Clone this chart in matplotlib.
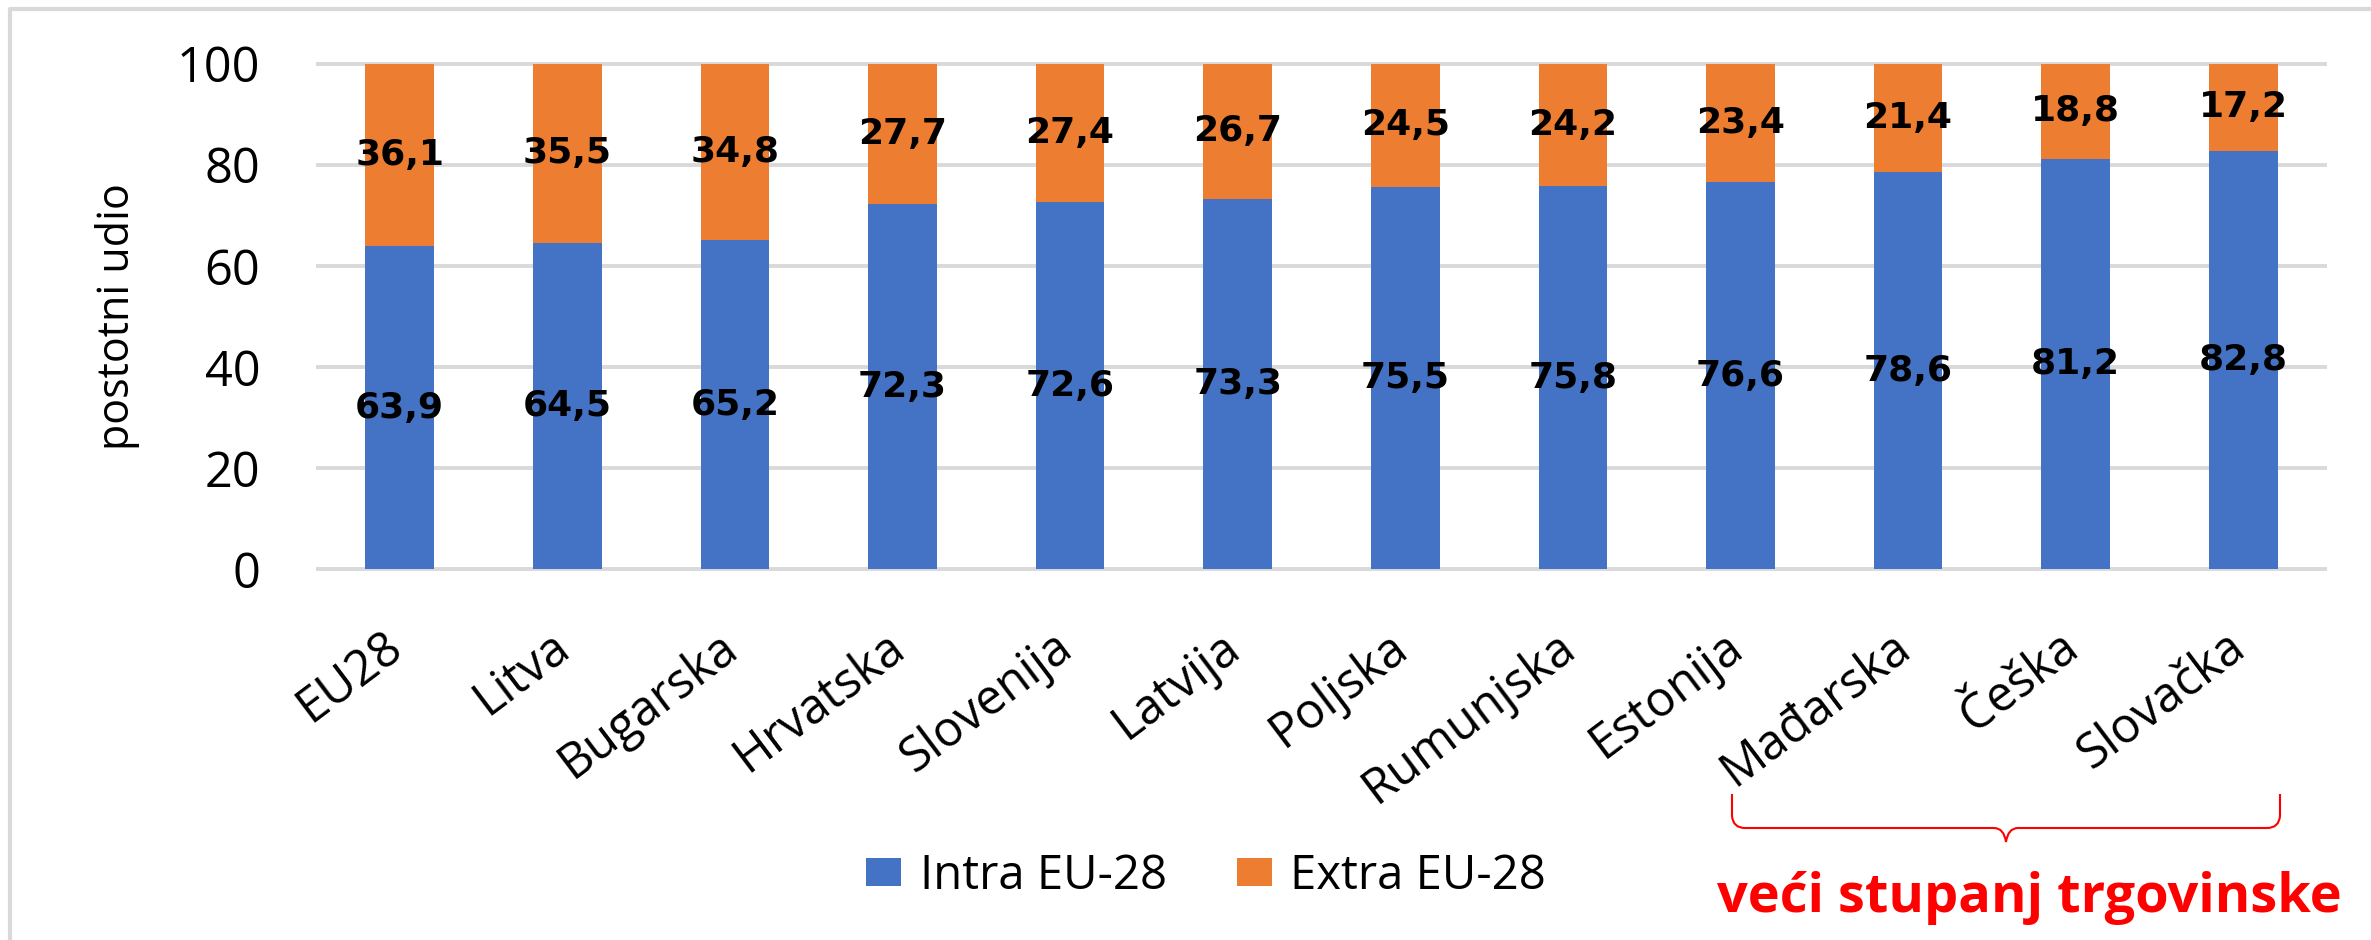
import matplotlib
matplotlib.use("Agg")
import matplotlib.pyplot as plt
import matplotlib.transforms as mtransforms
from matplotlib.path import Path
from matplotlib.patches import PathPatch
from matplotlib.lines import Line2D

# Podaci
zemlje = ["EU28", "Litva", "Bugarska", "Hrvatska", "Slovenija", "Latvija",
          "Poljska", "Rumunjska", "Estonija", "Mađarska", "Češka", "Slovačka"]
intra = [63.9, 64.5, 65.2, 72.3, 72.6, 73.3, 75.5, 75.8, 76.6, 78.6, 81.2, 82.8]
extra = [36.1, 35.5, 34.8, 27.7, 27.4, 26.7, 24.5, 24.2, 23.4, 21.4, 18.8, 17.2]
y_ticks = [0, 20, 40, 60, 80, 100]

PLAVA = "#4472C4"
NARANCASTA = "#ED7D31"
SIVA = "#d9d9d9"

W, H = 2371, 940
fig = plt.figure(figsize=(W / 100, H / 100), dpi=100)
plt.rcParams["font.family"] = ["Open Sans", "DejaVu Sans"]

# Os grafa (u pikselima slike)
ax = fig.add_axes([316 / W, 1 - 571 / H, (2327 - 316) / W, (571 - 62) / H])

x = list(range(len(zemlje)))
b1 = ax.bar(x, intra, 0.41, color=PLAVA, label="Intra EU-28", zorder=2)
b2 = ax.bar(x, extra, 0.41, bottom=intra, color=NARANCASTA, label="Extra EU-28", zorder=2)

# Oznake vrijednosti u sredini stupaca
def fmt(v):
    return f"{v:.1f}".replace(".", ",")

for i in x:
    ax.text(i, intra[i] / 2, fmt(intra[i]), ha="center", va="center",
            fontsize=26, fontweight="bold", family="DejaVu Sans", zorder=3)
    ax.text(i, intra[i] + extra[i] / 2, fmt(extra[i]), ha="center", va="center",
            fontsize=26, fontweight="bold", family="DejaVu Sans", zorder=3)

ax.set_xlim(-0.5, len(zemlje) - 0.5)
ax.set_ylim(-0.3, 100.3)
ax.set_yticks(y_ticks)
ax.set_yticklabels([str(t) for t in y_ticks])
ax.yaxis.grid(True, color=SIVA, lw=2.8, zorder=0)
ax.set_axisbelow(True)
for s in ax.spines.values():
    s.set_visible(False)

ax.tick_params(axis="y", length=0, pad=40, labelsize=35)
ax.tick_params(axis="x", length=0, pad=37, labelsize=35)
ax.set_xticks(x)
ax.set_xticklabels(zemlje, rotation=37, ha="right", va="top")
pomak = mtransforms.ScaledTranslation(0.12, 0, fig.dpi_scale_trans)
for lab in ax.get_xticklabels():
    lab.set_transform(lab.get_transform() + pomak)

# Naziv osi y
fig.text(117 / W, 1 - 317 / H, "postotni udio", rotation=90,
         ha="center", va="center", fontsize=31)

# Legenda
fig.legend(handles=[b1, b2], loc="center", bbox_to_anchor=(1206 / W, 1 - 876 / H),
           ncol=2, frameon=False, prop={"family": "Open Sans", "size": 34},
           handlelength=0.74, handleheight=0.55, handletextpad=0.4, columnspacing=1.48)

# Okvir grafikona (lijevo i gore)
fig.add_artist(Line2D([10 / W, 10 / W, 1.01], [-0.01, 1 - 9 / H, 1 - 9 / H],
                      color=SIVA, lw=3, transform=fig.transFigure))

# Crvena vitičasta zagrada
def p(px, py):
    return (px / W, 1 - py / H)

verts = [p(1732, 794), p(1732, 816), p(1733, 828), p(1745, 828),
         p(1994, 828), p(2004, 828), p(2006, 842),
         p(2008, 828), p(2018, 828), p(2267, 828),
         p(2279, 828), p(2280, 816), p(2280, 794)]
codes = [Path.MOVETO, Path.LINETO, Path.CURVE3, Path.CURVE3,
         Path.LINETO, Path.CURVE3, Path.CURVE3,
         Path.CURVE3, Path.CURVE3, Path.LINETO,
         Path.CURVE3, Path.CURVE3, Path.LINETO]
fig.add_artist(PathPatch(Path(verts, codes), fill=False, edgecolor="red",
                         lw=1.5, transform=fig.transFigure))

fig.text(1717 / W, 1 - 912 / H, "veći stupanj trgovinske", ha="left", va="baseline",
         color="red", fontsize=39, fontweight="bold")

fig.savefig("out.png", dpi=100)
